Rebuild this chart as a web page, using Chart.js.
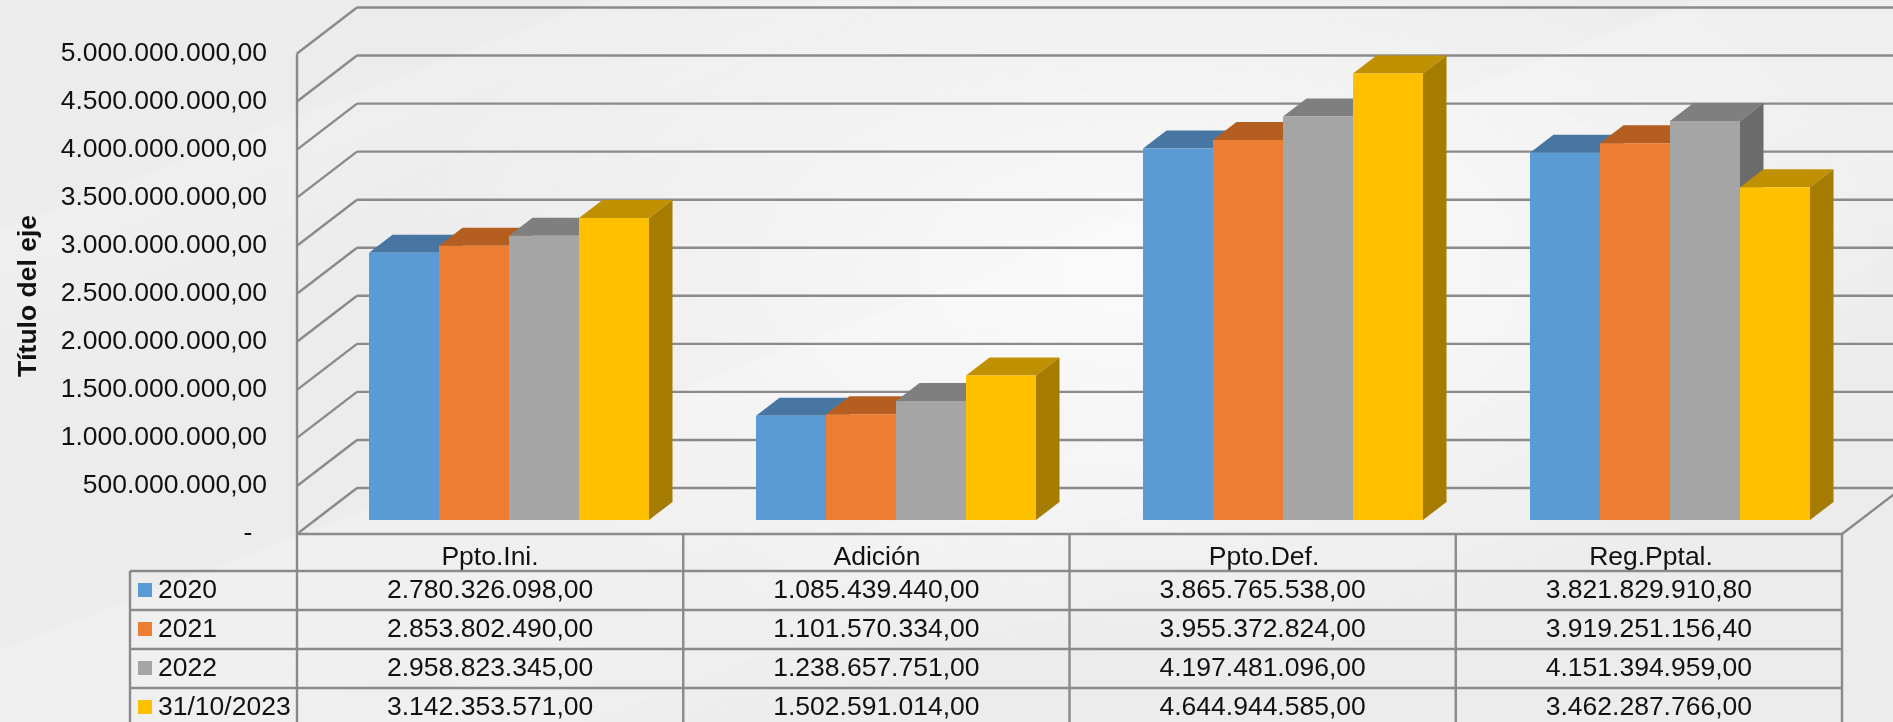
<!DOCTYPE html>
<html>
<head>
    <meta charset="utf-8">
    <title>Presupuesto</title>
    <style>
        html, body {
            margin: 0;
            height: 100%;
            overflow: hidden;
            background-color: #ececec;
            background-image:
                radial-gradient(ellipse 760px 400px at 1150px 270px, rgba(255,255,255,.72), transparent),
                linear-gradient(159deg, transparent 15.8%, rgba(255,255,255,.16) 16%, rgba(255,255,255,.1) 22%, transparent 30%, transparent 44.8%, rgba(255,255,255,.2) 45%, rgba(255,255,255,.18) 59.5%, rgba(255,255,255,.24) 60%, transparent 72%);
        }
        canvas { display: block; }
    </style>
</head>
<body>

<script src="https://cdn.jsdelivr.net/npm/chart.js@4"></script>

<canvas id="chart" width="1893" height="722"></canvas>

<script>
    const categories = ['Ppto.Ini.', 'Adición', 'Ppto.Def.', 'Reg.Pptal.'];
    const series_names = ['2020', '2021', '2022', '31/10/2023'];
    const values_2020 = [2780326098.00, 1085439440.00, 3865765538.00, 3821829910.80];
    const values_2021 = [2853802490.00, 1101570334.00, 3955372824.00, 3919251156.40];
    const values_2022 = [2958823345.00, 1238657751.00, 4197481096.00, 4151394959.00];
    const values_2023 = [3142353571.00, 1502591014.00, 4644944585.00, 3462287766.00];
    const axis_title = 'Título del eje';

    const front_colors = ['#5b9bd5', '#ed7d31', '#a5a5a5', '#ffc000'];
    const top_colors = ['#4676a1', '#b45e21', '#7f7f7f', '#bf9000'];
    const side_colors = ['#3f6a91', '#a0541d', '#6b6b6b', '#a67c00'];

    const font_family = '"Liberation Sans", Arial, sans-serif';
    const font_size = 26.5;
    const text_color = '#111111';
    const line_color = '#8a8a8a';

    // 3d look: bar depth, and how far the walls sit from the scale's own y
    const bar_dx = 23.5, bar_dy = 18;
    const wall_dx = 60, front_dy = 14, back_dy = -32;
    const wall_left = 297, col_width = 386.25;
    const legend_left = 130;
    const row_lines = [534, 571, 610, 649, 688];
    const row_text = [557, 591, 630, 669, 708];

    function format_es(v) {
        const parts = v.toFixed(2).split('.');
        return parts[0].replace(/\B(?=(\d{3})+$)/g, '.') + ',' + parts[1];
    }

    function line(ctx, x1, y1, x2, y2) {
        ctx.beginPath();
        ctx.moveTo(x1, y1);
        ctx.lineTo(x2, y2);
        ctx.stroke();
    }

    function poly(ctx, color, pts) {
        ctx.fillStyle = color;
        ctx.beginPath();
        pts.forEach((p, i) => i ? ctx.lineTo(p[0], p[1]) : ctx.moveTo(p[0], p[1]));
        ctx.closePath();
        ctx.fill();
    }

    const walls_3d = {
        id: 'walls_3d',
        beforeDatasetsDraw(chart) {
            const ctx = chart.ctx, y = chart.scales.y;
            ctx.save();
            ctx.strokeStyle = line_color;
            ctx.lineWidth = 2.4;
            y.ticks.forEach(t => {
                const p = y.getPixelForValue(t.value);
                line(ctx, wall_left, p + front_dy, wall_left + wall_dx, p + back_dy);
                line(ctx, wall_left + wall_dx, p + back_dy, chart.width, p + back_dy);
            });
            line(ctx, wall_left, y.getPixelForValue(y.max) + front_dy, wall_left, y.getPixelForValue(0) + front_dy);

            // floor edge on the right
            const floor = y.getPixelForValue(0) + front_dy;
            const right = wall_left + col_width * categories.length;
            line(ctx, right, floor, right + wall_dx, floor - 46);

            // tops and sides go first, fronts are drawn by the library on top
            chart.getSortedVisibleDatasetMetas().slice().sort((a, b) => a.index - b.index).forEach(meta => {
                meta.data.forEach(bar => {
                    const l = bar.x - bar.width / 2, r = bar.x + bar.width / 2;
                    poly(ctx, top_colors[meta.index], [[l, bar.y], [r, bar.y], [r + bar_dx, bar.y - bar_dy], [l + bar_dx, bar.y - bar_dy]]);
                    poly(ctx, side_colors[meta.index], [[r, bar.y], [r + bar_dx, bar.y - bar_dy], [r + bar_dx, bar.base - bar_dy], [r, bar.base]]);
                });
            });
            ctx.restore();
        }
    };

    const data_table = {
        id: 'data_table',
        afterDraw(chart) {
            const ctx = chart.ctx;
            const rows = chart.data.datasets;
            const right = wall_left + col_width * categories.length;
            ctx.save();
            ctx.strokeStyle = line_color;
            ctx.lineWidth = 2.4;

            row_lines.forEach((y, i) => line(ctx, i ? legend_left : wall_left, y, right, y));
            line(ctx, legend_left, row_lines[1], legend_left, chart.height);
            for (let c = 0; c <= categories.length; c++) {
                line(ctx, wall_left + c * col_width, row_lines[0], wall_left + c * col_width, chart.height);
            }

            ctx.font = font_size + 'px ' + font_family;
            ctx.fillStyle = text_color;
            ctx.textBaseline = 'middle';
            rows.forEach((ds, r) => {
                const y = row_text[r + 1];
                ctx.fillStyle = ds.backgroundColor;
                ctx.fillRect(138, y - 8, 14, 14);
                ctx.fillStyle = text_color;
                ctx.textAlign = 'left';
                ctx.fillText(ds.label, 158, y);
                ctx.textAlign = 'center';
                ds.data.forEach((v, c) => {
                    ctx.fillText(format_es(v), wall_left + (c + .5) * col_width, y);
                });
            });

            // axis title
            ctx.translate(29, 296);
            ctx.rotate(-Math.PI / 2);
            ctx.font = 'bold 26.5px ' + font_family;
            ctx.textAlign = 'center';
            ctx.fillText(axis_title, 0, 0);
            ctx.restore();
        }
    };

    const all_values = [values_2020, values_2021, values_2022, values_2023];

    new Chart(document.getElementById('chart'), {
        type: 'bar',
        data: {
            labels: categories,
            datasets: series_names.map((name, i) => ({
                label: name,
                data: all_values[i],
                backgroundColor: front_colors[i],
                borderWidth: 0
            }))
        },
        options: {
            responsive: false,
            animation: false,
            events: [],
            layout: { autoPadding: false, padding: { top: 39.5, right: 29.5, left: 0, bottom: 0 } },
            datasets: { bar: { barPercentage: 1, categoryPercentage: 0.7235 } },
            plugins: { legend: { display: false }, tooltip: { enabled: false }, title: { display: false } },
            scales: {
                x: {
                    grid: { display: false, drawTicks: false },
                    border: { display: false },
                    afterFit: s => { s.height = 202; },
                    ticks: {
                        color: text_color,
                        font: { family: font_family, size: font_size },
                        labelOffset: -19,
                        padding: 22,
                        maxRotation: 0,
                        autoSkip: false
                    }
                },
                y: {
                    min: 0,
                    max: 5000000000,
                    grid: { display: false, drawTicks: false },
                    border: { display: false },
                    afterFit: s => { s.width = 315.5; s.paddingTop = 0; s.paddingBottom = 0; },
                    ticks: {
                        stepSize: 500000000,
                        color: text_color,
                        font: { family: font_family, size: font_size },
                        padding: 48.5,
                        labelOffset: 14,
                        callback: v => v === 0 ? '-  ' : format_es(v)
                    }
                }
            }
        },
        plugins: [walls_3d, data_table]
    });
</script>

</body>
</html>
